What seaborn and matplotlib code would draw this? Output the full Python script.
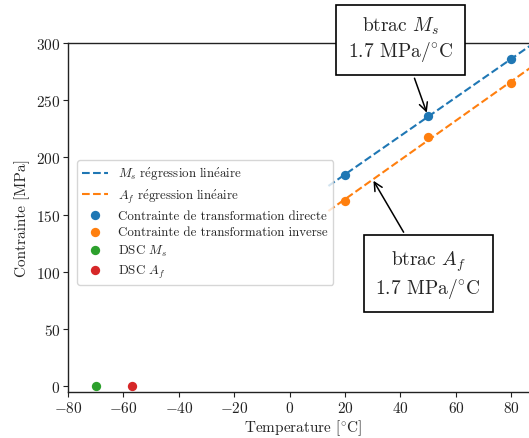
import numpy as np
import matplotlib
matplotlib.use("Agg")
import matplotlib.pyplot as plt
import seaborn as sns

# data
temp_pts = [20, 50, 80]
ms_stress = [185, 236, 286]
af_stress = [162, 218, 265]
dsc_ms = [-70]
dsc_af = [-57]
dsc_zero = [0]
reg_range = [14, 90]

sns.set_style("ticks")
plt.rcParams['font.family'] = ['cmr10', 'DejaVu Serif']
plt.rcParams['mathtext.fontset'] = 'cm'
plt.rcParams['axes.formatter.use_mathtext'] = True
plt.rcParams['axes.unicode_minus'] = True

fig = plt.figure(figsize=(5.29, 4.39), dpi=100)
ax = fig.add_axes([68/529, 46/439, (539-68)/529, (393-44)/439])

pm = np.polyfit(temp_pts, ms_stress, 1)
pa = np.polyfit(temp_pts, af_stress, 1)
xr = np.linspace(reg_range[0], reg_range[1], 50)

blue, orange, green, red = sns.color_palette("tab10")[:4]

reg_txt = r'$\mathrm{r\acute{e}gression\ lin\acute{e}aire}$'
sns.lineplot(x=xr, y=np.polyval(pm, xr), ax=ax, color=blue, linestyle='--', lw=1.5,
             label=r'$M_s$ ' + reg_txt)
sns.lineplot(x=xr, y=np.polyval(pa, xr), ax=ax, color=orange, linestyle='--', lw=1.5,
             label=r'$A_f$ ' + reg_txt)
sns.scatterplot(x=temp_pts, y=ms_stress, ax=ax, color=blue, s=45, linewidth=0,
                label='Contrainte de transformation directe', zorder=3)
sns.scatterplot(x=temp_pts, y=af_stress, ax=ax, color=orange, s=45, linewidth=0,
                label='Contrainte de transformation inverse', zorder=3)
sns.scatterplot(x=dsc_ms, y=dsc_zero, ax=ax, color=green, s=45, linewidth=0,
                label=r'DSC $M_s$', zorder=3, clip_on=False)
sns.scatterplot(x=dsc_af, y=dsc_zero, ax=ax, color=red, s=45, linewidth=0,
                label=r'DSC $A_f$', zorder=3, clip_on=False)

ax.set_xlim(-80, 90)
ax.set_ylim(-5, 300)
ax.set_xticks(np.arange(-80, 81, 20))
ax.set_yticks(np.arange(0, 301, 50))
ax.set_xlabel(r'Temperature [$^{\circ}$C]', fontsize=11, labelpad=2)
ax.set_ylabel('Contrainte [MPa]', fontsize=11, labelpad=4)
ax.tick_params(labelsize=11, length=3.5, width=0.8, pad=2, colors='#222222')
for s in ax.spines.values():
    s.set_color('#222222')
    s.set_linewidth(1.0)

leg = ax.legend(loc='center left', bbox_to_anchor=(9/471, 0.486), borderaxespad=0,
                fontsize=9.3, framealpha=0.8, labelspacing=0.35, handlelength=2.0)

bbox = dict(boxstyle='square,pad=0.6', fc='white', ec='black', lw=1.2)
ax.annotate('btrac $M_s$\n1.7 MPa/$^{\\circ}$C', xy=(50, np.polyval(pm, 50)),
            xytext=(40, 303.5), ha='center', va='center', fontsize=14,
            bbox=bbox, annotation_clip=False,
            arrowprops=dict(arrowstyle='->', color='black', lw=1.1, shrinkB=3,
                            mutation_scale=15))
ax.annotate('btrac $A_f$\n1.7 MPa/$^{\\circ}$C', xy=(30, np.polyval(pa, 30)),
            xytext=(50, 98), ha='center', va='center', fontsize=14,
            bbox=bbox, annotation_clip=False,
            arrowprops=dict(arrowstyle='->', color='black', lw=1.1, shrinkB=1,
                            mutation_scale=15))

fig.savefig('out.png', dpi=100)
